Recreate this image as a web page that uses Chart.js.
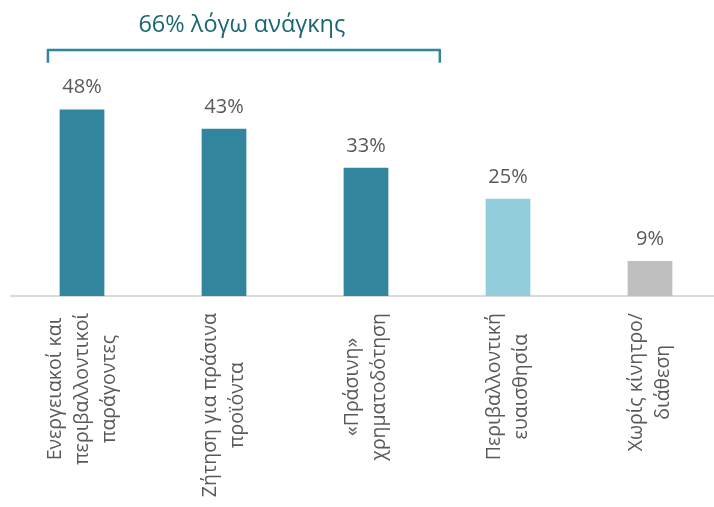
<!DOCTYPE html>
<html>
<head>
<meta charset="utf-8">
<script src="https://cdn.jsdelivr.net/npm/chart.js@4/dist/chart.umd.min.js"></script>
<style>
  html, body { margin: 0; padding: 0; background: #fff; overflow: hidden; }
  #wrap { width: 714px; height: 507px; overflow: hidden; }
</style>
</head>
<body>
<div id="wrap"><canvas id="myChart" width="722" height="507"></canvas></div>
<script>
// data
const categories = [
  ["Ενεργειακοί και", "περιβαλλοντικοί", "παράγοντες"],
  ["Ζήτηση για πράσινα", "προϊόντα"],
  ["«Πράσινη»", "χρηματοδότηση"],
  ["Περιβαλλοντική", "ευαισθησία"],
  ["Χωρίς κίνητρο/", "διάθεση"]
];
const values = [48, 43, 33, 25, 9];
const barColors = ["#31859c", "#31859c", "#31859c", "#92cddc", "#bfbfbf"];
const groupLabel = "66% λόγω ανάγκης";
const groupFrom = 0;
const groupTo = 2;

const FONT = '"Open Sans", "Noto Sans", sans-serif';
const textGray = "#595959";

// value labels above the bars + rotated category labels + the bracket
const annotate = {
  id: "annotate",
  afterDatasetsDraw(chart) {
    const ctx = chart.ctx;
    const x = chart.scales.x;
    const y = chart.scales.y;
    const meta = chart.getDatasetMeta(0);
    ctx.save();

    // values
    ctx.fillStyle = textGray;
    ctx.font = "20px " + FONT;
    ctx.textAlign = "center";
    ctx.textBaseline = "alphabetic";
    meta.data.forEach((bar, i) => {
      ctx.fillText(values[i] + "%", bar.x, bar.y - 16);
    });

    // category labels, rotated, lines centred in a block hanging from the axis
    ctx.font = "19.5px " + FONT;
    const lineGap = 27;
    const blockTop = chart.chartArea.bottom + 17;
    categories.forEach((lines, i) => {
      const cx = x.getPixelForValue(i);
      const w = Math.max(...lines.map(l => ctx.measureText(l).width));
      lines.forEach((line, j) => {
        ctx.save();
        ctx.translate(cx + (j - (lines.length - 1) / 2) * lineGap, blockTop + w / 2);
        ctx.rotate(-Math.PI / 2);
        ctx.textAlign = "center";
        ctx.textBaseline = "middle";
        ctx.fillText(line, 0, 0);
        ctx.restore();
      });
    });

    // bracket over the first three bars
    const cat = x.getPixelForValue(1) - x.getPixelForValue(0);
    const left = x.getPixelForValue(groupFrom) - 0.24 * cat;
    const right = x.getPixelForValue(groupTo) + 0.52 * cat;
    const yLine = y.getPixelForValue(63.3);
    const yEnd = y.getPixelForValue(60);
    ctx.strokeStyle = "#31859c";
    ctx.lineWidth = 2.5;
    ctx.lineJoin = "round";
    ctx.beginPath();
    ctx.moveTo(left, yEnd);
    ctx.lineTo(left, yLine);
    ctx.lineTo(right, yLine);
    ctx.lineTo(right, yEnd);
    ctx.stroke();

    ctx.fillStyle = "#1b6674";
    ctx.font = "23.5px " + FONT;
    ctx.textAlign = "center";
    ctx.textBaseline = "alphabetic";
    ctx.fillText(groupLabel, (left + right) / 2 - 2, y.getPixelForValue(68));

    ctx.restore();
  }
};

new Chart(document.getElementById("myChart"), {
  type: "bar",
  data: {
    labels: categories,
    datasets: [{
      data: values,
      backgroundColor: barColors,
      barPercentage: 0.315,
      categoryPercentage: 1
    }]
  },
  options: {
    responsive: false,
    animation: false,
    layout: { padding: { top: 20, bottom: 203, left: 11, right: 1 } },
    plugins: { legend: { display: false }, tooltip: { enabled: false } },
    scales: {
      x: {
        grid: { display: false },
        ticks: { display: false },
        border: { display: true, color: "#d9d9d9", width: 2 }
      },
      y: {
        display: false,
        min: 0,
        max: 71
      }
    }
  },
  plugins: [annotate]
});
</script>
</body>
</html>
